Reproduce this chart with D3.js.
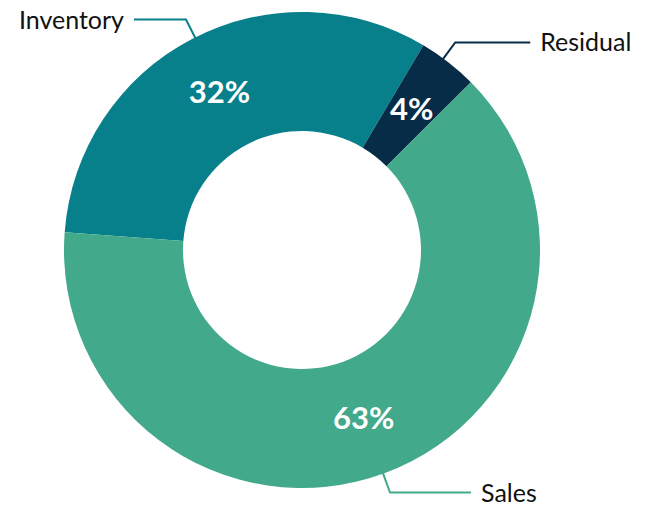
<!DOCTYPE html>
<html>
<head>
<meta charset="utf-8">
<script src="https://cdn.jsdelivr.net/npm/d3@7/dist/d3.min.js"></script>
<style>
  html, body { margin: 0; padding: 0; background: #ffffff; }
  svg { display: block; }
</style>
</head>
<body>
<svg id="chart" width="647" height="506"></svg>
<script>
// Share of units by outcome (percent)
const categories = ["Inventory", "Residual", "Sales"];
const shares = [32, 4, 63];

// Slice and leader colours, one per category
const colors = ["#07808b", "#062c48", "#42a98a"];

// Leader line layout per category: horizontal run length and angle nudge (degrees)
const leaderRun = { Inventory: 52, Residual: 75, Sales: 81 };
const leaderNudge = { Inventory: 0.8, Residual: -1.5, Sales: 0.3 };

const width = 647, height = 506;
const cx = 302, cy = 250;
const outerR = 238, innerR = 119;
const elbowR = 258;

const svg = d3.select("#chart");
const g = svg.append("g").attr("transform", `translate(${cx},${cy})`);

const data = categories.map((c, i) => ({ name: c, value: shares[i], color: colors[i] }));

const start = -85.7 * Math.PI / 180;
const pie = d3.pie()
  .value(d => d.value)
  .sort(null)
  .startAngle(start)
  .endAngle(start + 2 * Math.PI);

const arcs = pie(data);

const arc = d3.arc().innerRadius(innerR).outerRadius(outerR);

g.selectAll("path.slice")
  .data(arcs)
  .join("path")
  .attr("class", "slice")
  .attr("d", arc)
  .attr("fill", d => d.data.color);

// Percentage labels centred in each slice
g.selectAll("text.pct")
  .data(arcs)
  .join("text")
  .attr("class", "pct")
  .attr("transform", d => `translate(${arc.centroid(d)})`)
  .attr("text-anchor", "middle")
  .attr("dy", "0.36em")
  .attr("fill", "#ffffff")
  .style("font-family", "Lato, 'Open Sans', sans-serif")
  .style("font-weight", 700)
  .style("font-size", "31px")
  .text(d => d3.format(".0f")(d.data.value) + "%");

// Leader lines with category names
const polar = (r, a) => [r * Math.sin(a), -r * Math.cos(a)];

arcs.forEach(d => {
  const mid = (d.startAngle + d.endAngle) / 2 + leaderNudge[d.data.name] * Math.PI / 180;
  const p0 = polar(outerR - 1, mid);
  const p1 = polar(elbowR, mid);
  const right = Math.sin(mid) > 0;
  const run = leaderRun[d.data.name];
  const p2 = [p1[0] + (right ? run : -run), p1[1]];

  g.append("path")
    .attr("d", d3.line()([p0, p1, p2]))
    .attr("fill", "none")
    .attr("stroke", d.data.color)
    .attr("stroke-width", 2);

  g.append("text")
    .attr("x", p2[0] + (right ? 10 : -10))
    .attr("y", p2[1])
    .attr("dy", "0.36em")
    .attr("text-anchor", right ? "start" : "end")
    .attr("fill", "#111111")
    .style("font-family", "Lato, 'Open Sans', sans-serif")
    .style("font-weight", 400)
    .style("font-size", "25px")
    .text(d.data.name);
});
</script>
</body>
</html>
